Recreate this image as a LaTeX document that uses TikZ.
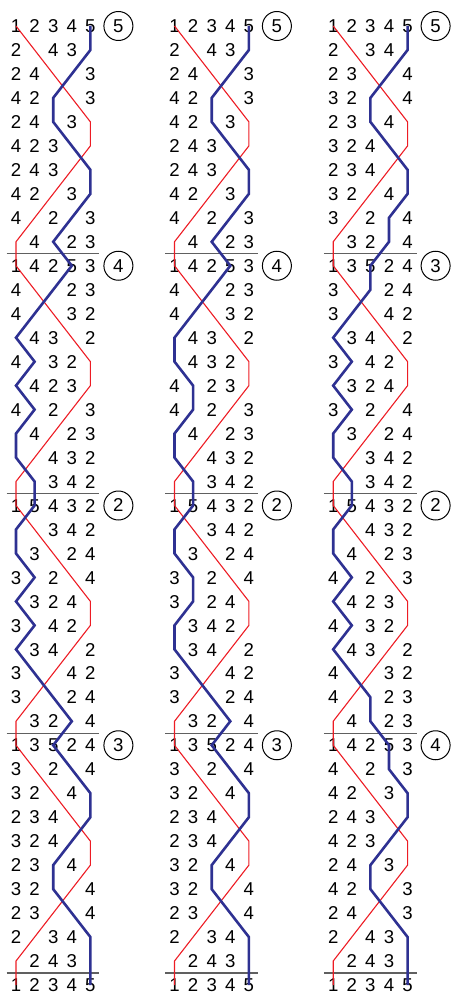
\documentclass[tikz,border=0pt]{standalone}
\usepackage{fontspec}
\setmainfont{Liberation Sans}
\definecolor{pathred}{RGB}{237,28,36}
\definecolor{pathblue}{RGB}{46,49,146}
\definecolor{sepgray}{RGB}{96,96,96}
\tikzset{
  dig/.style={anchor=base, inner sep=0pt, font=\fontsize{18.6}{20}\selectfont},
  circ/.style={draw, circle, line width=1pt, minimum size=29pt, inner sep=0pt, font=\fontsize{18.6}{20}\selectfont},
  sepline/.style={draw=sepgray, line width=1.2pt},
  redline/.style={draw=pathred, line width=1.1pt},
  blueline/.style={draw=pathblue, line width=2.6pt}
}
\newcommand\digcell[2]{\if x#2\else\node[dig] (d\pn-\ri-#1) at (\xo+#1*18.6-18.6, 32.65+\ri*23.975) {#2};\fi}
\newcommand\digrow[5]{\digcell{1}{#1}\digcell{2}{#2}\digcell{3}{#3}\digcell{4}{#4}\digcell{5}{#5}}
\def\redcols{1,2,3,4,5,5,4,3,2,1,1,2,3,4,5,5,4,3,2,1,1,2,3,4,5,5,4,3,2,1,1,2,3,4,5,5,4,3,2,1,1}
\newcommand\drawpanel[5]{%
  \def\pn{#1}\def\xo{#2}%
  \foreach \s [count=\ri from 0] in {#4} {\expandafter\digrow\s}
  \foreach \n [count=\k from 0] in {#3} {\node[circ] (c\pn-\k) at (\xo+102.4, 26+\k*239.75) {\n};}
  \foreach \k in {1,2,3,4} {\draw[sepline] (\xo-9.3, 14+\k*239.75) -- (\xo+83.3, 14+\k*239.75);}
  \foreach \c [count=\ri from 0] in \redcols {\coordinate (r\pn-\ri) at (\xo+\c*18.6-18.6, 26+\ri*23.975);}
  \foreach \c [count=\ri from 0] in {#5} {\coordinate (b\pn-\ri) at (\xo+\c*18.6-18.6, 26+\ri*23.975);}
  \draw[redline] (r\pn-0) \foreach \ri in {1,...,40} {-- (r\pn-\ri)};
  \draw[blueline] (b\pn-0) \foreach \ri in {1,...,40} {-- (b\pn-\ri)};
}
\begin{document}
\begin{tikzpicture}[x=1pt,y=-1pt]
\useasboundingbox (0,0) rectangle (451,992);
\drawpanel{A}{16}{5,4,2,3}{12345,2x43x,24xx3,42xx3,24x3x,423xx,243xx,42x3x,4x2x3,x4x23,
14253,4xx23,4xx32,x43x2,4x32x,x423x,4x2x3,x4x23,xx432,xx342,
15432,xx342,x3x24,3x2x4,x324x,3x42x,x34x2,3xx42,3xx24,x32x4,
13524,3x2x4,32x4x,234xx,324xx,23x4x,32xx4,23xx4,2x34x,x243x,
12345}{5,5,4,3,3,4,5,5,4,3,
4,3,2,1,2,1,2,1,1,2,
2,1,1,2,1,2,1,2,3,4,
3,4,5,5,4,3,3,4,5,5,
5}
\drawpanel{B}{174.5}{5,4,2,3}{12345,2x43x,24xx3,42xx3,42x3x,243xx,243xx,42x3x,4x2x3,x4x23,
14253,4xx23,4xx32,x43x2,x432x,4x23x,4x2x3,x4x23,xx432,xx342,
15432,xx342,x3x24,3x2x4,3x24x,x342x,x34x2,3xx42,3xx24,x32x4,
13524,3x2x4,32x4x,234xx,234xx,32x4x,32xx4,23xx4,2x34x,x243x,
12345}{5,5,4,3,3,4,5,5,4,3,
4,3,2,1,1,2,2,1,1,2,
2,1,1,2,2,1,1,2,3,4,
3,4,5,5,4,3,3,4,5,5,
5}
\drawpanel{C}{333.2}{5,3,2,4}{12345,2x34x,23xx4,32xx4,23x4x,324xx,234xx,32x4x,3x2x4,x32x4,
13524,3xx24,3xx42,x34x2,3x42x,x324x,3x2x4,x3x24,xx342,xx342,
15432,xx432,x4x23,4x2x3,x423x,4x32x,x43x2,4xx32,4xx23,x4x23,
14253,4x2x3,42x3x,243xx,423xx,24x3x,42xx3,24xx3,2x43x,x243x,
12345}{5,5,4,3,3,4,5,5,4,4,
3,3,2,1,2,1,2,1,1,2,
2,1,1,2,1,2,1,2,3,3,
4,4,5,5,4,3,3,4,5,5,
5}
\end{tikzpicture}
\end{document}
